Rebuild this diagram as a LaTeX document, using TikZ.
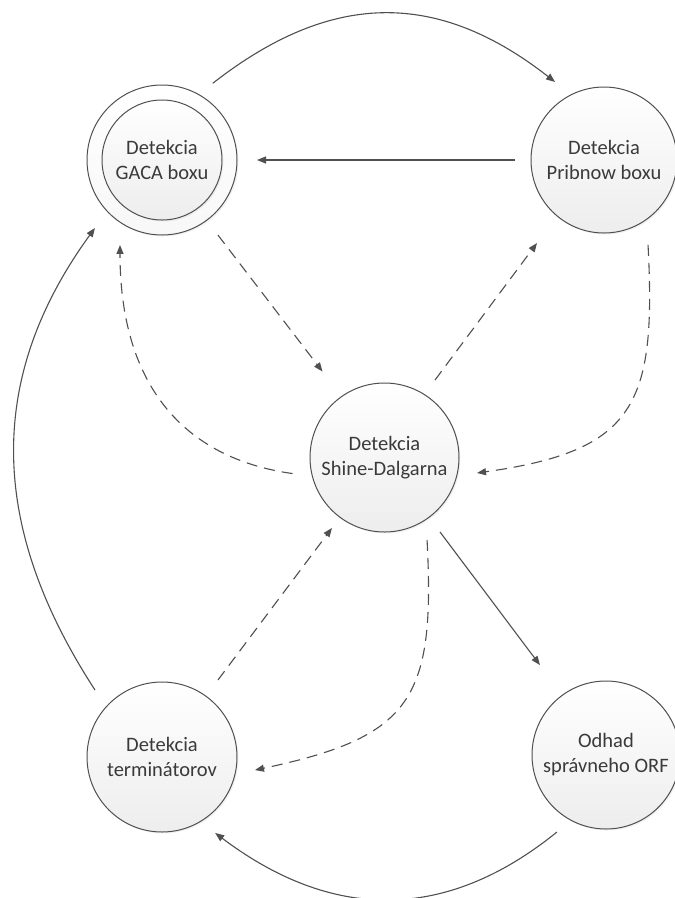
\documentclass[tikz,border=0pt]{standalone}
\usepackage{fontspec}
\setmainfont{Carlito}
\usetikzlibrary{arrows.meta,shadows}
\definecolor{edgec}{HTML}{505050}
\definecolor{txtc}{HTML}{3A3A3A}
\begin{document}
\begin{tikzpicture}[x=1pt,y=1pt,
  stnode/.style={circle, draw=edgec, line width=1pt, minimum size=#1, inner sep=0pt,
    top color=white, bottom color=gray!14, align=center, text=txtc,
    font=\fontsize{20.5}{25}\selectfont,
    drop shadow={opacity=0.10, shadow xshift=1.5pt, shadow yshift=-1.5pt}},
  conn/.style={draw=edgec, line width=1.1pt, -{Triangle[length=9pt,width=7pt]}},
  dsh/.style={conn, dash pattern=on 11pt off 7pt}
]
\fill[white] (0,0) rectangle (675,-898);
\useasboundingbox (0,0) rectangle (675,-898);

% nodes
\node[stnode=150pt, top color=white, bottom color=gray!6] (gacaout) at (162,-160) {};
\node[stnode=120pt, drop shadow={opacity=0}] (gaca) at (162,-160) {Detekcia\\GACA boxu};
\node[stnode=146pt] (pri) at (604,-160) {Detekcia\\Pribnow boxu};
\node[stnode=149pt] (sd) at (384.5,-457.5) {Detekcia\\Shine-Dalgarna};
\node[stnode=150pt] (term) at (162,-757) {Detekcia\\terminátorov};
\node[stnode=148pt] (orf) at (606,-755) {Odhad\\správneho ORF};

% 1 GACA -> Pribnow (top arc)
\draw[conn] ([shift={(56.5:92)}]gaca.center) .. controls +(38:150) and +(142:150) .. ([shift={(122.1:92.1)}]pri.center);
% 2 Pribnow -> GACA
\draw[conn] ([shift={(180:89)}]pri.center) -- ([shift={(0:95)}]gaca.center);
% 3 GACA -> SD dashed
\draw[dsh] ([shift={(-53.3:93.6)}]gaca.center) -- ([shift={(125.8:106)}]sd.center);
% 4 SD -> GACA dashed curve
\draw[dsh] ([shift={(189.9:93.4)}]sd.center) .. controls +(172:110) and +(-90:140) .. ([shift={(243.7:94.8)}]gaca.center);
% 5 SD -> Pribnow dashed
\draw[dsh] ([shift={(56.9:92.5)}]sd.center) -- ([shift={(231.1:106.7)}]pri.center);
% 6 Pribnow -> SD dashed curve
\draw[dsh] ([shift={(297.4:95.7)}]pri.center) .. controls +(-87:160) and +(8:160) .. ([shift={(-9.5:93.8)}]sd.center);
% 7 SD -> ORF
\draw[conn] ([shift={(-53.3:92.9)}]sd.center) -- ([shift={(126.3:111.6)}]orf.center);
% 8 term -> SD dashed
\draw[dsh] ([shift={(54:95.2)}]term.center) -- ([shift={(233.3:87.9)}]sd.center);
% 9 SD -> term dashed curve
\draw[dsh] ([shift={(-62.7:92.8)}]sd.center) .. controls +(-87:160) and +(12:160) .. ([shift={(-8:93.9)}]term.center);
% 10 ORF -> term bottom arc
\draw[conn] ([shift={(237.5:91.3)}]orf.center) .. controls +(219:145) and +(-37:145) .. ([shift={(-55:92.7)}]term.center);
% 11 term -> GACA left arc
\draw[conn] ([shift={(135:94.8)}]term.center) .. controls +(123:190) and +(234:190) .. ([shift={(225.4:95.5)}]gaca.center);
\end{tikzpicture}
\end{document}
